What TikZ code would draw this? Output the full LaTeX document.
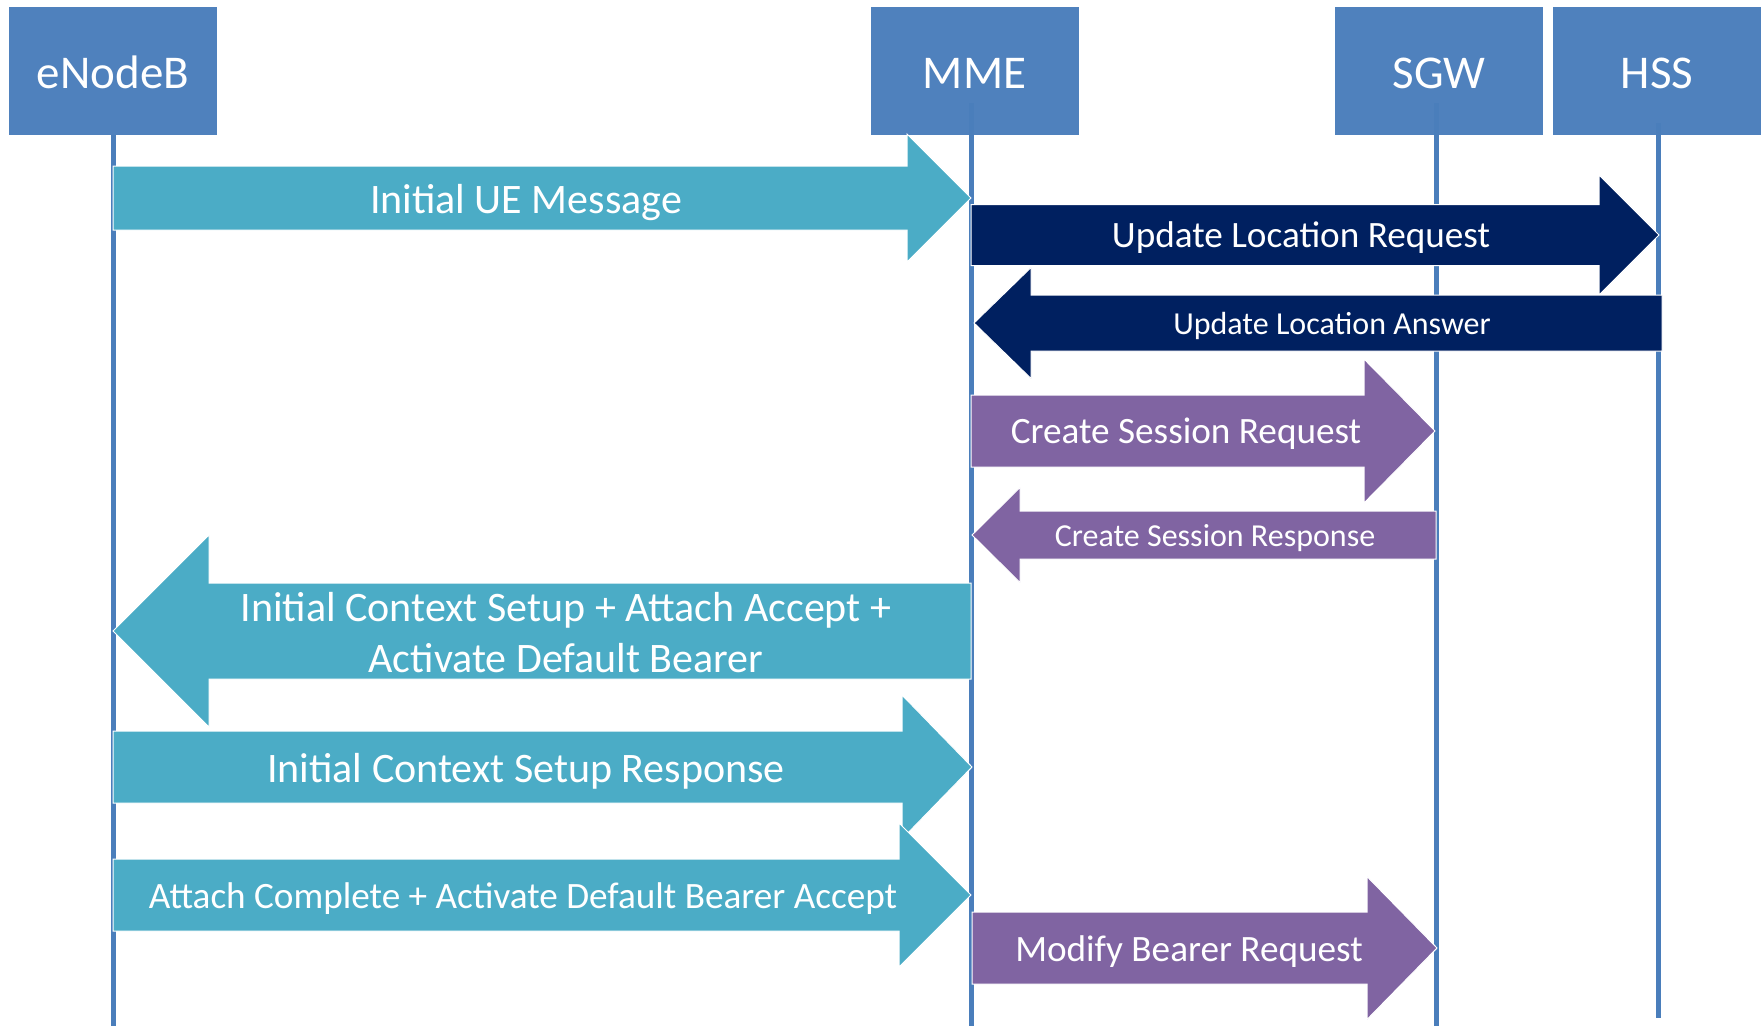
\documentclass[tikz,border=0pt]{standalone}
\usepackage{fontspec}
\setmainfont{Carlito}
\definecolor{boxblue}{HTML}{4F81BD}
\definecolor{lifeblue}{HTML}{4A7EBB}
\definecolor{aqua}{HTML}{4BACC6}
\definecolor{navy}{HTML}{002060}
\definecolor{purp}{HTML}{8064A2}
\newcommand\rblk[7]{% color, x1, xtip, yc, bodyhalf, headhalf, headlen
  \filldraw[blk,fill=#1] (#2,#4-#5) -- (#3-#7,#4-#5) -- (#3-#7,#4-#6) -- (#3,#4) -- (#3-#7,#4+#6) -- (#3-#7,#4+#5) -- (#2,#4+#5) -- cycle;}
\newcommand\lblk[7]{% color, xtip, x2, yc, bodyhalf, headhalf, headlen
  \filldraw[blk,fill=#1] (#3,#4-#5) -- (#2+#7,#4-#5) -- (#2+#7,#4-#6) -- (#2,#4) -- (#2+#7,#4+#6) -- (#2+#7,#4+#5) -- (#3,#4+#5) -- cycle;}
\tikzset{
  hdr/.style={fill=boxblue, text=white, minimum width=208pt, minimum height=128pt, inner sep=0pt,
    text height=34pt, text depth=0pt, font=\fontsize{47}{56}\selectfont},
  life/.style={draw=lifeblue, line width=5pt},
  blk/.style={draw=white, line width=1pt},
  lbl/.style={text=white, inner sep=0pt, anchor=base, align=center},
  fA/.style={font=\fontsize{42}{51}\selectfont},
  fB/.style={font=\fontsize{37.2}{44}\selectfont},
  fC/.style={font=\fontsize{32}{38}\selectfont},
}
\begin{document}
\begin{tikzpicture}[x=1pt,y=-1pt]
\useasboundingbox (0,0) rectangle (1764,1026);
% header boxes
\node[hdr] (enb) at (113,71) {eNodeB};
\node[hdr] (mme) at (974.5,71) {MME};
\node[hdr] (sgw) at (1439,71) {SGW};
\node[hdr] (hss) at (1657,71) {HSS};
% lifelines
\coordinate (enbT) at (113,135); \coordinate (enbB) at (113,1026);
\coordinate (mmeT) at (971.5,103); \coordinate (mmeB) at (971.5,1026);
\coordinate (sgwT) at (1436,103); \coordinate (sgwB) at (1436,1026);
\coordinate (hssT) at (1658,123); \coordinate (hssB) at (1658,1018);
\draw[life] (enbT) -- (enbB);
\draw[life] (mmeT) -- (mmeB);
\draw[life] (sgwT) -- (sgwB);
\draw[life] (hssT) -- (hssB);
% 1 Initial UE Message
\rblk{aqua}{113}{971}{198}{32}{64}{64}
\node[lbl,fA] (m1) at (526,{198+15.5}) {Initial UE Message};
% 2 Update Location Request
\rblk{navy}{971}{1659}{235}{30.5}{60}{60}
\node[lbl,fB] (m2) at (1301,{235+12.5}) {Update Location Request};
% 3 Update Location Answer
\lblk{navy}{974}{1662}{323}{28}{55.5}{57}
\node[lbl,fC] (m3) at (1332,{323+11}) {Update Location Answer};
% 4 Create Session Request
\rblk{purp}{971}{1435}{431}{36}{72}{71}
\node[lbl,fB] (m4) at (1186,{431+12.5}) {Create Session Request};
% 5 Create Session Response
\lblk{purp}{972}{1436}{535}{24}{47.5}{48}
\node[lbl,fC] (m5) at (1215,{535+11}) {Create Session Response};
% 6 Initial Context Setup + Attach Accept
\lblk{aqua}{113}{971}{631}{48}{96}{96}
\node[lbl,fA] (m6) at (566,672) {Initial Context Setup + Attach Accept +\\Activate Default Bearer};
% 7 Initial Context Setup Response
\rblk{aqua}{113}{972}{767}{36}{72}{70}
\node[lbl,fA] (m7) at (526,{767+15.5}) {Initial Context Setup Response};
% 8 Attach Complete
\rblk{aqua}{113}{971}{895}{36}{72}{72}
\node[lbl,fB] (m8) at (523,{895+13.5}) {Attach Complete + Activate Default Bearer Accept};
% 9 Modify Bearer Request
\rblk{purp}{972}{1437}{948}{36}{71.5}{70}
\node[lbl,fB] (m9) at (1189,{948+13}) {Modify Bearer Request};
\end{tikzpicture}
\end{document}
